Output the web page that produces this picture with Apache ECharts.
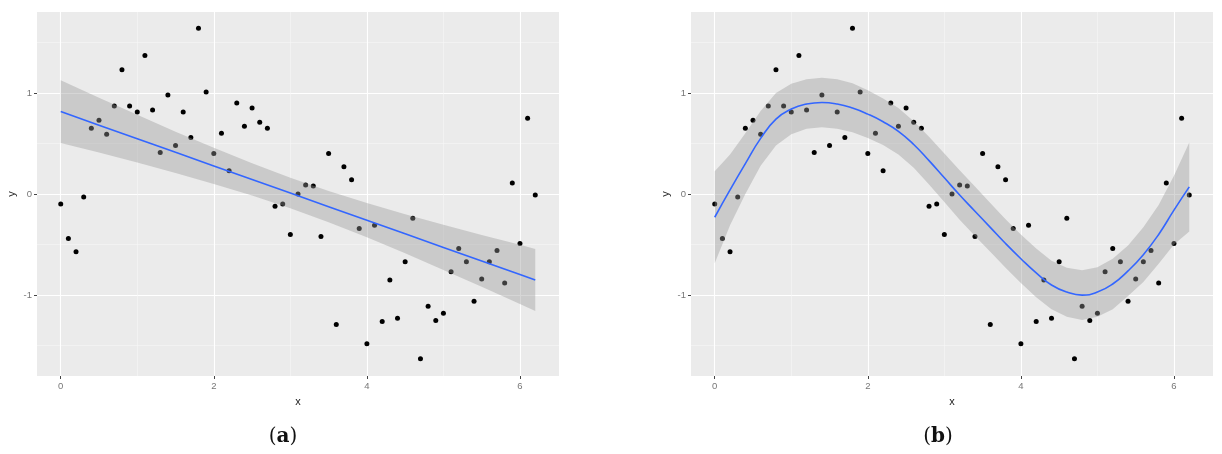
<!DOCTYPE html>
<html>
<head>
<meta charset="utf-8">
<script src="https://cdn.jsdelivr.net/npm/echarts@6/dist/echarts.min.js"></script>
<style>
html, body { margin: 0; padding: 0; background: #fff; }
#root { width: 1222px; height: 454px; }
</style>
</head>
<body>
<div id="root"></div>
<script>
// observed points (same data in both panels)
const xs = [0, 0.1, 0.2, 0.3, 0.4, 0.5, 0.6, 0.7, 0.8, 0.9,
  1.0, 1.1, 1.2, 1.3, 1.4, 1.5, 1.6, 1.7, 1.8, 1.9,
  2.0, 2.1, 2.2, 2.3, 2.4, 2.5, 2.6, 2.7, 2.8, 2.9,
  3.0, 3.1, 3.2, 3.3, 3.4, 3.5, 3.6, 3.7, 3.8, 3.9,
  4.0, 4.1, 4.2, 4.3, 4.4, 4.5, 4.6, 4.7, 4.8, 4.9,
  5.0, 5.1, 5.2, 5.3, 5.4, 5.5, 5.6, 5.7, 5.8, 5.9,
  6.0, 6.1, 6.2];
const ys = [-0.10, -0.44, -0.57, -0.03, 0.65, 0.73, 0.59, 0.87, 1.23, 0.87,
  0.81, 1.37, 0.83, 0.41, 0.98, 0.48, 0.81, 0.56, 1.64, 1.01,
  0.40, 0.60, 0.23, 0.90, 0.67, 0.85, 0.71, 0.65, -0.12, -0.10,
  -0.40, 0.00, 0.09, 0.08, -0.42, 0.40, -1.29, 0.27, 0.14, -0.34,
  -1.48, -0.31, -1.26, -0.85, -1.23, -0.67, -0.24, -1.63, -1.11, -1.25,
  -1.18, -0.77, -0.54, -0.67, -1.06, -0.84, -0.67, -0.56, -0.88, 0.11,
  -0.49, 0.75, -0.01];

// (a) linear fit with confidence band
const linX = [0, 0.5, 1, 1.5, 2, 2.5, 3, 3.5, 4, 4.5, 5, 5.5, 6, 6.2];
const linFit = [0.815, 0.681, 0.547, 0.412, 0.278, 0.144, 0.010, -0.125, -0.259, -0.393, -0.528, -0.662, -0.796, -0.850];
const linUpper = [1.125, 0.951, 0.783, 0.616, 0.458, 0.303, 0.160, 0.030, -0.090, -0.200, -0.305, -0.406, -0.503, -0.543];
const linLower = [0.505, 0.411, 0.311, 0.208, 0.098, -0.015, -0.140, -0.280, -0.428, -0.586, -0.751, -0.918, -1.089, -1.157];

// (b) loess fit with confidence band
const loX = [0, 0.2, 0.4, 0.6, 0.8, 1.0, 1.2, 1.4, 1.6, 1.8, 2.0, 2.2, 2.4, 2.6, 2.8, 3.0,
  3.2, 3.4, 3.6, 3.8, 4.0, 4.2, 4.4, 4.6, 4.8, 5.0, 5.2, 5.4, 5.6, 5.8, 6.0, 6.2];
const loFit = [-0.23, 0.04, 0.30, 0.55, 0.74, 0.84, 0.89, 0.905, 0.89, 0.85, 0.79, 0.715, 0.62, 0.49, 0.33, 0.16,
  -0.01, -0.17, -0.33, -0.49, -0.64, -0.78, -0.90, -0.97, -1.00, -0.97, -0.89, -0.76, -0.60, -0.40, -0.16, 0.07];
const loUpper = [0.225, 0.39, 0.60, 0.82, 1.00, 1.09, 1.135, 1.15, 1.135, 1.095, 1.025, 0.945, 0.85, 0.72, 0.565, 0.40,
  0.235, 0.075, -0.09, -0.25, -0.40, -0.54, -0.66, -0.73, -0.755, -0.725, -0.64, -0.51, -0.33, -0.11, 0.18, 0.51];
const loLower = [-0.685, -0.31, 0.00, 0.28, 0.48, 0.59, 0.645, 0.66, 0.645, 0.61, 0.555, 0.485, 0.39, 0.26, 0.095, -0.08,
  -0.255, -0.415, -0.57, -0.73, -0.88, -1.02, -1.14, -1.215, -1.245, -1.215, -1.14, -1.01, -0.87, -0.69, -0.50, -0.37];

const xTicks = [0, 2, 4, 6];
const xMinor = [1, 3, 5];
const yTicks = [-1, 0, 1];
const yMinor = [-1.5, -0.5, 0.5, 1.5];
const panelTags = ['a', 'b'];

const X_MIN = -0.31, X_MAX = 6.51, Y_MIN = -1.8, Y_MAX = 1.8;
const FONT = 'Liberation Sans';
const lefts = [37, 691];

let chart = echarts.init(document.getElementById('root'));

function mainX(g) {
  return {
    type: 'value', gridIndex: g, min: X_MIN, max: X_MAX, position: 'bottom',
    name: 'x', nameLocation: 'middle', nameGap: 20,
    nameTextStyle: { color: '#222', fontSize: 11, fontFamily: FONT },
    axisLine: { show: false, onZero: false },
    axisTick: { show: true, length: 3, customValues: xTicks, lineStyle: { color: '#444' } },
    axisLabel: { customValues: xTicks, margin: 5, color: '#777', fontSize: 9.5, fontFamily: FONT },
    splitLine: { show: true, lineStyle: { color: '#fff', width: 1.1 } }
  };
}
function minorX(g) {
  return {
    type: 'value', gridIndex: g, min: X_MIN, max: X_MAX, position: 'top',
    axisLine: { show: false, onZero: false },
    axisTick: { show: false, customValues: xMinor },
    axisLabel: { show: false },
    splitLine: { show: true, lineStyle: { color: '#f7f7f7', width: 0.6 } }
  };
}
function mainY(g) {
  return {
    type: 'value', gridIndex: g, min: Y_MIN, max: Y_MAX, position: 'left',
    name: 'y', nameLocation: 'middle', nameGap: 20, nameRotate: 90,
    nameTextStyle: { color: '#222', fontSize: 11, fontFamily: FONT },
    axisLine: { show: false, onZero: false },
    axisTick: { show: true, length: 3, customValues: yTicks, lineStyle: { color: '#444' } },
    axisLabel: { customValues: yTicks, margin: 5, color: '#777', fontSize: 9.5, fontFamily: FONT },
    splitLine: { show: true, lineStyle: { color: '#fff', width: 1.1 } }
  };
}
function minorY(g) {
  return {
    type: 'value', gridIndex: g, min: Y_MIN, max: Y_MAX, position: 'right',
    axisLine: { show: false, onZero: false },
    axisTick: { show: false, customValues: yMinor },
    axisLabel: { show: false },
    splitLine: { show: true, lineStyle: { color: '#f7f7f7', width: 0.6 } }
  };
}

function band(xArr, up, lo) {
  return function (params, api) {
    const pts = [];
    for (let i = 0; i < xArr.length; i++) pts.push(api.coord([xArr[i], up[i]]));
    for (let i = xArr.length - 1; i >= 0; i--) pts.push(api.coord([xArr[i], lo[i]]));
    return { type: 'polygon', shape: { points: pts }, style: { fill: 'rgba(153,153,153,0.4)' } };
  };
}

const points = xs.map((x, i) => [x, ys[i]]);
const fits = [
  { x: linX, fit: linFit, up: linUpper, lo: linLower, smooth: false },
  { x: loX, fit: loFit, up: loUpper, lo: loLower, smooth: 0.5 }
];

let series = [];
fits.forEach((f, g) => {
  series.push({
    type: 'scatter', xAxisIndex: g, yAxisIndex: g, data: points,
    symbolSize: 5, itemStyle: { color: '#000', opacity: 1 }, silent: true, z: 2
  });
  series.push({
    type: 'custom', xAxisIndex: g, yAxisIndex: g, data: [[0, 0]],
    renderItem: band(f.x, f.up, f.lo), silent: true, z: 3
  });
  series.push({
    type: 'line', xAxisIndex: g, yAxisIndex: g,
    data: f.x.map((x, i) => [x, f.fit[i]]),
    smooth: f.smooth, showSymbol: false, silent: true, z: 4,
    lineStyle: { color: '#3366FF', width: 1.6 }
  });
});

let option = {
  animation: false,
  backgroundColor: '#fff',
  grid: lefts.map(l => ({
    left: l, top: 12, width: 522, height: 364,
    show: true, backgroundColor: '#ebebeb', borderWidth: 0
  })),
  xAxis: [mainX(0), mainX(1), minorX(0), minorX(1)],
  yAxis: [mainY(0), mainY(1), minorY(0), minorY(1)],
  graphic: panelTags.map((t, i) => ({
    type: 'text', x: [283, 938][i], y: 437,
    style: {
      text: '(' + '{b|' + t + '}' + ')',
      rich: { b: { fontWeight: 'bold', fontSize: 20, fontFamily: 'DejaVu Serif', fill: '#111' } },
      fontSize: 20, fontFamily: 'DejaVu Serif', fill: '#111',
      align: 'center', verticalAlign: 'middle'
    }
  })),
  series: series
};
chart.setOption(option);
</script>
</body>
</html>
